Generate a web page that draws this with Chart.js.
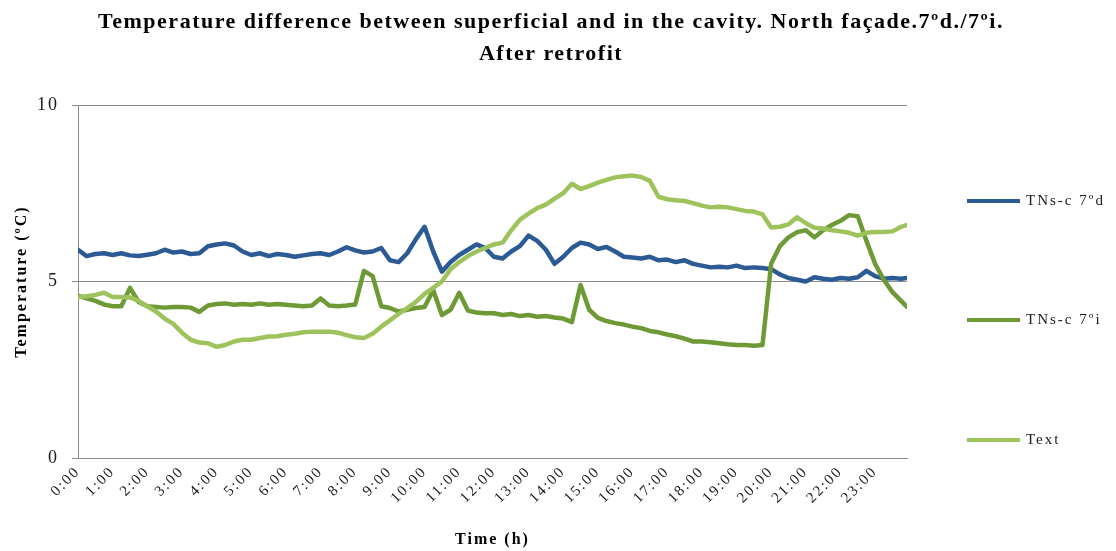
<!DOCTYPE html>
<html>
<head>
<meta charset="utf-8">
<script src="https://cdn.jsdelivr.net/npm/chart.js@4.4.1/dist/chart.umd.min.js"></script>
<style>
html,body{margin:0;padding:0;background:#ffffff;}
canvas{display:block;}
</style>
</head>
<body>
<canvas id="c" width="1116" height="551"></canvas>
<script>
// ---- data ----
const hours = [
  0,0.25,0.5,0.75, 1,1.25,1.5,1.75, 2,2.25,2.5,2.75, 3,3.25,3.5,3.75,
  4,4.25,4.5,4.75, 5,5.25,5.5,5.75, 6,6.25,6.5,6.75, 7,7.25,7.5,7.75,
  8,8.25,8.5,8.75, 9,9.25,9.5,9.75, 10,10.25,10.5,10.75, 11,11.25,11.5,11.75,
  12,12.25,12.5,12.75, 13,13.25,13.5,13.75, 14,14.25,14.5,14.75, 15,15.25,15.5,15.75,
  16,16.25,16.5,16.75, 17,17.25,17.5,17.75, 18,18.25,18.5,18.75, 19,19.25,19.5,19.75,
  20,20.25,20.5,20.75, 21,21.25,21.5,21.75, 22,22.25,22.5,22.75, 23,23.25,23.5,23.75,
  23.92
];
const tNsC7d = [
  5.90,5.72,5.78,5.80, 5.75,5.80,5.74,5.72, 5.76,5.80,5.90,5.82, 5.85,5.78,5.80,6.00,
  6.05,6.08,6.02,5.85, 5.75,5.80,5.72,5.78, 5.75,5.70,5.74,5.78, 5.80,5.75,5.85,5.97,
  5.88,5.82,5.85,5.95, 5.60,5.55,5.80,6.20, 6.55,5.85,5.28,5.55, 5.75,5.90,6.05,5.95,
  5.70,5.65,5.85,6.00, 6.30,6.15,5.90,5.50, 5.70,5.95,6.10,6.05, 5.92,5.98,5.85,5.70,
  5.68,5.65,5.70,5.60, 5.62,5.55,5.60,5.50, 5.45,5.40,5.42,5.40, 5.45,5.38,5.40,5.38,
  5.35,5.20,5.10,5.05, 5.00,5.12,5.08,5.05, 5.10,5.08,5.12,5.30, 5.15,5.08,5.10,5.08,
  5.10
];
const tNsC7i = [
  4.60,4.52,4.45,4.35, 4.30,4.30,4.82,4.42, 4.30,4.28,4.26,4.28, 4.28,4.26,4.14,4.32,
  4.36,4.38,4.34,4.36, 4.34,4.38,4.34,4.36, 4.34,4.32,4.30,4.32, 4.52,4.32,4.30,4.32,
  4.35,5.30,5.15,4.30, 4.25,4.15,4.20,4.25, 4.28,4.75,4.05,4.20, 4.68,4.18,4.12,4.10,
  4.10,4.05,4.08,4.02, 4.05,4.00,4.02,3.98, 3.95,3.85,4.90,4.20, 3.97,3.88,3.82,3.78,
  3.72,3.68,3.60,3.56, 3.50,3.45,3.38,3.30, 3.30,3.28,3.25,3.22, 3.20,3.20,3.18,3.20,
  5.50,6.00,6.25,6.40, 6.45,6.25,6.45,6.60, 6.72,6.88,6.85,6.15, 5.50,5.05,4.70,4.45,
  4.28
];
const tExt = [
  4.56,4.58,4.62,4.68, 4.56,4.56,4.55,4.45, 4.30,4.15,3.95,3.80, 3.55,3.35,3.27,3.25,
  3.15,3.20,3.30,3.35, 3.35,3.40,3.44,3.45, 3.49,3.52,3.56,3.58, 3.58,3.58,3.55,3.48,
  3.42,3.40,3.52,3.72, 3.90,4.08,4.25,4.42, 4.65,4.82,5.00,5.35, 5.55,5.72,5.85,5.95,
  6.05,6.10,6.45,6.75, 6.92,7.08,7.18,7.35, 7.50,7.77,7.62,7.70, 7.80,7.88,7.95,7.98,
  8.00,7.96,7.85,7.40, 7.33,7.30,7.28,7.22, 7.15,7.10,7.12,7.10, 7.05,7.00,6.98,6.90,
  6.53,6.55,6.62,6.82, 6.65,6.52,6.50,6.45, 6.42,6.38,6.30,6.38, 6.40,6.40,6.42,6.55,
  6.60
];
const hourTicks = [0,1,2,3,4,5,6,7,8,9,10,11,12,13,14,15,16,17,18,19,20,21,22,23];
const yTicks = [0,5,10];
const seriesNames = ['TNs-c 7ºd','TNs-c 7ºi','Text'];
const titleLines = ['Temperature difference between superficial and in the cavity. North façade.7ºd./7ºi.','After retrofit'];
const xTitle = 'Time (h)';
const yTitle = 'Temperature (ºC)';

// ---- styling ----
const FONT = '"Liberation Serif", "Times New Roman", serif';
const colors = ['#2c5a95', '#6e9a36', '#9ec25c'];
const SPACING = '2px';

const toPoints = vals => hours.map((h, i) => ({x: h, y: vals[i]}));

const spacingPlugin = {
  id: 'spacing',
  beforeUpdate(chart) { chart.ctx.letterSpacing = SPACING; },
  beforeLayout(chart) { chart.ctx.letterSpacing = SPACING; },
  beforeDraw(chart) { chart.ctx.letterSpacing = SPACING; }
};

const titlePlugin = {
  id: 'twoLineTitle',
  afterDraw(chart) {
    const ctx = chart.ctx;
    ctx.save();
    ctx.letterSpacing = '1.5px';
    ctx.fillStyle = '#000';
    ctx.font = 'bold 22px ' + FONT;
    ctx.textAlign = 'center';
    ctx.textBaseline = 'middle';
    ctx.fillText(titleLines[0], 551, 22);
    ctx.fillText(titleLines[1], 551, 54);
    ctx.restore();
  }
};

const legendYs = [201, 320, 440];
const sideLegend = {
  id: 'sideLegend',
  afterDraw(chart) {
    const ctx = chart.ctx;
    ctx.save();
    ctx.letterSpacing = SPACING;
    chart.data.datasets.forEach((ds, i) => {
      const y = legendYs[i];
      ctx.strokeStyle = ds.borderColor;
      ctx.lineWidth = 4;
      ctx.lineCap = 'butt';
      ctx.beginPath();
      ctx.moveTo(967, y);
      ctx.lineTo(1020, y);
      ctx.stroke();
      ctx.fillStyle = '#1a1a1a';
      ctx.font = '15px ' + FONT;
      ctx.textAlign = 'left';
      ctx.textBaseline = 'middle';
      ctx.fillText(ds.label, 1026, y);
    });
    ctx.restore();
  }
};

new Chart(document.getElementById('c'), {
  type: 'line',
  data: {
    datasets: [
      {label: seriesNames[0], data: toPoints(tNsC7d), borderColor: colors[0], backgroundColor: colors[0], order: 3},
      {label: seriesNames[1], data: toPoints(tNsC7i), borderColor: colors[1], backgroundColor: colors[1], order: 2},
      {label: seriesNames[2], data: toPoints(tExt), borderColor: colors[2], backgroundColor: colors[2], order: 1}
    ]
  },
  options: {
    responsive: false,
    devicePixelRatio: 1,
    animation: false,
    events: [],
    elements: {
      line: {borderWidth: 4.5, tension: 0, fill: false, borderJoinStyle: 'round', borderCapStyle: 'round'},
      point: {radius: 0}
    },
    layout: {padding: {left: 0, right: 209, top: 105, bottom: 0}},
    plugins: {
      legend: {display: false},
      tooltip: {enabled: false},
      title: {display: false}
    },
    scales: {
      x: {
        type: 'linear',
        min: 0,
        max: 23.92,
        afterBuildTicks: axis => { axis.ticks = hourTicks.map(v => ({value: v})); },
        afterFit: s => { s.height = 93; },
        grid: {display: false, drawTicks: false},
        border: {display: true, color: '#8c8c8c', width: 1},
        ticks: {
          autoSkip: false,
          maxRotation: 45,
          minRotation: 45,
          padding: 5,
          color: '#1a1a1a',
          font: {family: FONT, size: 15},
          callback: v => v + ':00'
        },
        title: {
          display: true,
          text: xTitle,
          color: '#000',
          font: {family: FONT, size: 16, weight: 'bold'},
          padding: {top: 0, bottom: 2}
        }
      },
      y: {
        min: 0,
        max: 10,
        afterBuildTicks: axis => { axis.ticks = yTicks.map(v => ({value: v})); },
        afterFit: s => { s.width = 78; },
        grid: {color: '#8c8c8c', lineWidth: 1, drawTicks: true, tickLength: 6},
        border: {display: true, color: '#8c8c8c', width: 1},
        ticks: {
          padding: 13,
          color: '#1a1a1a',
          font: {family: FONT, size: 18}
        },
        title: {
          display: true,
          text: yTitle,
          color: '#000',
          font: {family: FONT, size: 16, weight: 'bold'},
          padding: {top: 12, bottom: 0}
        }
      }
    }
  },
  plugins: [spacingPlugin, titlePlugin, sideLegend]
});
</script>
</body>
</html>
